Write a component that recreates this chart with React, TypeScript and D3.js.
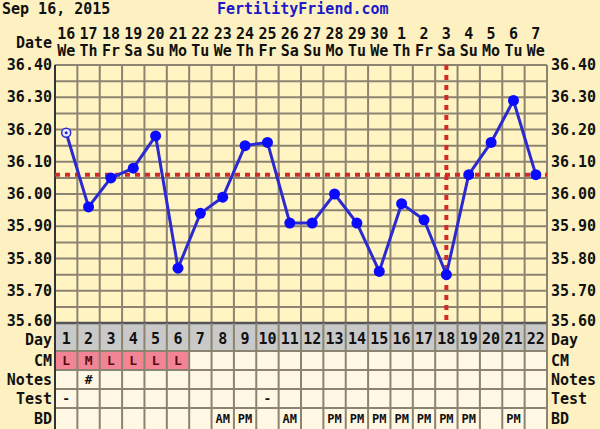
import React from "react"
import * as d3 from "d3"

const cycleDays = ["1","2","3","4","5","6","7","8","9","10","11","12","13","14","15","16","17","18","19","20","21","22"]
const dateNums = ["16","17","18","19","20","21","22","23","24","25","26","27","28","29","30","1","2","3","4","5","6","7"]
const weekdays = ["We","Th","Fr","Sa","Su","Mo","Tu","We","Th","Fr","Sa","Su","Mo","Tu","We","Th","Fr","Sa","Su","Mo","Tu","We"]
const temps = [36.19,35.96,36.05,36.08,36.18,35.77,35.94,35.99,36.15,36.16,35.91,35.91,36.0,35.91,35.76,35.97,35.92,35.75,36.06,36.16,36.29,36.06]
const cmRow = ["L","M","L","L","L","L","","","","","","","","","","","","","","","",""]
const notesRow = ["","#","","","","","","","","","","","","","","","","","","","",""]
const testRow = ["-","","","","","","","","","-","","","","","","","","","","","",""]
const bdRow = ["","","","","","","","AM","PM","","AM","","PM","PM","PM","PM","PM","PM","PM","","PM",""]
const tempTicks = [36.4,36.3,36.2,36.1,36.0,35.9,35.8,35.7,35.6]
const coverline = 36.06
const ovulationDay = "18"

const W = 600
const H = 429
const left = 55
const right = 547
const top = 65
const bottom = 323

const font = "'DejaVu Sans Mono', monospace"
const gridColor = "#8c8370"

export default function App() {
	const x = d3.scaleBand<string>().domain(cycleDays).range([left, right])
	const y = d3.scaleLinear().domain([35.6, 36.4]).range([bottom, top])
	const cx = (d: string) => (x(d) as number) + x.bandwidth() / 2

	const minorTicks = d3.range(0, 17).map((i) => 35.6 + i * 0.05)
	const line = d3
		.line<number>()
		.x((_, i) => cx(cycleDays[i]))
		.y((d) => y(d))

	// rows under the chart: [label, top, height, values]
	const rows: [string, number, number, string[]][] = [
		["CM", 351, 19, cmRow],
		["Notes", 370, 19, notesRow],
		["Test", 389, 19, testRow],
		["BD", 408, 21, bdRow],
	]

	return (
		<div style={{ position: "absolute", left: 0, top: 0 }}>
			<svg width={W} height={H} style={{ display: "block" }} fontFamily={font} fontWeight="bold">
				<rect width={W} height={H} fill="#fdf1c1" />
				<text x={2} y={14} fontSize={15} fill="#111">Sep 16, 2015</text>
				<text x={217} y={14} fontSize={15} fill="#1a1ac8">FertilityFriend.com</text>

				{/* date header */}
				<text x={52} y={48} fontSize={15} textAnchor="end" fill="#111">Date</text>
				{cycleDays.map((d, i) => (
					<g key={"h" + d}>
						<text x={cx(d)} y={39} fontSize={15} textAnchor="middle" fill="#111">{dateNums[i]}</text>
						<text x={cx(d)} y={56} fontSize={15} textAnchor="middle" fill="#111">{weekdays[i]}</text>
					</g>
				))}

				{/* plot area */}
				<rect x={left} y={top} width={right - left} height={bottom - top} fill="#fff4c2" />
				{minorTicks.map((t) => (
					<line key={"hy" + t} x1={left} x2={right} y1={y(t)} y2={y(t)} stroke={gridColor} strokeWidth={2} />
				))}
				{d3.range(0, cycleDays.length + 1).map((i) => (
					<line
						key={"vx" + i}
						x1={left + i * x.bandwidth()}
						x2={left + i * x.bandwidth()}
						y1={top}
						y2={H}
						stroke={gridColor}
						strokeWidth={2}
					/>
				))}
				{tempTicks.map((t) => (
					<g key={"yl" + t}>
						<text x={52} y={y(t) + (t === 35.6 ? 3 : 5)} fontSize={15} textAnchor="end" fill="#111">{t.toFixed(2)}</text>
						<text x={551} y={y(t) + (t === 35.6 ? 3 : 5)} fontSize={15} fill="#111">{t.toFixed(2)}</text>
					</g>
				))}

				{/* day row */}
				<rect x={left} y={bottom} width={right - left} height={28} fill="#c9c9c9" />
				<line x1={left} x2={right} y1={bottom} y2={bottom} stroke="#555" strokeWidth={2.5} />
				<text x={52} y={bottom + 22} fontSize={15} textAnchor="end" fill="#111">Day</text>
				<text x={551} y={bottom + 22} fontSize={15} fill="#111">Day</text>
				{cycleDays.map((d) => (
					<text key={"d" + d} x={cx(d)} y={bottom + 21} fontSize={15} textAnchor="middle" fill="#111">{d}</text>
				))}

				{/* lower table */}
				{rows.map(([label, ry, rh, vals]) => (
					<g key={label}>
						<text x={52} y={ry + rh / 2 + 5} fontSize={15} textAnchor="end" fill="#111">{label}</text>
						<text x={551} y={ry + rh / 2 + 5} fontSize={15} fill="#111">{label}</text>
						{cycleDays.map((d, i) => (
							<g key={label + d}>
								<rect
									x={x(d)}
									y={ry}
									width={x.bandwidth()}
									height={rh}
									fill={label === "CM" && vals[i] ? "#f28496" : "#fff8e4"}
								/>
								{vals[i] && (
									<text
										x={cx(d)}
										y={ry + rh / 2 + 4.5}
										fontSize={label === "BD" ? 12 : 13}
										textAnchor="middle"
										fill={label === "CM" ? "#5a0a10" : "#111"}>
										{vals[i]}
									</text>
								)}
							</g>
						))}
						<line x1={left} x2={right} y1={ry} y2={ry} stroke={gridColor} strokeWidth={2} />
					</g>
				))}
				{d3.range(0, cycleDays.length + 1).map((i) => (
					<line
						key={"tv" + i}
						x1={left + i * x.bandwidth()}
						x2={left + i * x.bandwidth()}
						y1={bottom}
						y2={H}
						stroke={gridColor}
						strokeWidth={2}
					/>
				))}
				<line x1={left} x2={left} y1={top} y2={H} stroke="#333" strokeWidth={2} />

				{/* coverline & ovulation */}
				<line x1={left} x2={right} y1={y(coverline)} y2={y(coverline)} stroke="#d42a2a" strokeWidth={4} strokeDasharray="5,5" />
				<line x1={cx(ovulationDay)} x2={cx(ovulationDay)} y1={top} y2={bottom} stroke="#d42a2a" strokeWidth={4} strokeDasharray="5,5" />

				{/* temperature line */}
				<path d={line(temps) as string} fill="none" stroke="#2a2ad0" strokeWidth={3} />
				{temps.map((t, i) =>
					i === 0 ? (
						<g key={"p" + i}>
							<circle cx={cx(cycleDays[i])} cy={y(t)} r={4.5} fill="#e8e8ff" stroke="#2a2ad0" strokeWidth={1.5} />
							<circle cx={cx(cycleDays[i])} cy={y(t)} r={1.5} fill="#2a2ad0" />
						</g>
					) : (
						<circle key={"p" + i} cx={cx(cycleDays[i])} cy={y(t)} r={5.5} fill="#0a0aff" />
					)
				)}
			</svg>
		</div>
	)
}
